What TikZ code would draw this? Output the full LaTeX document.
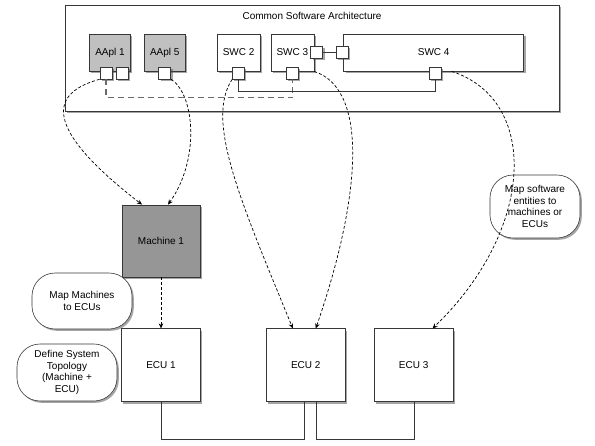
\documentclass[tikz,border=0pt]{standalone}
\usepackage{fontspec}
\setmainfont{Liberation Sans}
\usetikzlibrary{arrows.meta,positioning,shadows}
\definecolor{boxLine}{RGB}{55,55,55}
\definecolor{applFill}{RGB}{192,192,192}
\definecolor{machFill}{RGB}{150,150,150}
\definecolor{busGray}{RGB}{105,105,105}

\begin{document}
\begin{tikzpicture}[
  x=1pt, y=-1pt,
  font=\fontsize{10}{11.5}\selectfont,
  boxshadow/.style={drop shadow={shadow xshift=1.8pt, shadow yshift=-1.8pt, opacity=0.5, fill=black!70}},
  blk/.style={draw=boxLine, line width=0.8pt, fill=white, align=center, inner sep=0pt, boxshadow},
  appl/.style={blk, fill=applFill, minimum width=41pt, minimum height=37pt},
  swc/.style={blk, minimum width=43pt, minimum height=37pt},
  port/.style={blk, minimum size=12pt},
  hw/.style={blk, minimum width=79pt, minimum height=73pt},
  note/.style={draw=boxLine, line width=0.6pt, rounded corners=23pt, fill=white, align=center,
               inner sep=2pt, boxshadow},
  map/.style={densely dashed, line width=0.7pt, -{Stealth[length=5pt, width=4.5pt]}},
  bus/.style={dash pattern=on 6pt off 4pt, line width=1.1pt, busGray},
  wire/.style={line width=0.7pt, boxLine}
]
\useasboundingbox (0,0) rectangle (595,445);

% Common architecture
\node[blk, minimum width=494pt, minimum height=106pt] (arch) at (312,58) {};
\node (archtitle) at ([yshift=-11pt]arch.north) {Common Software Architecture};

\node[appl] (aapl1) at (110,52.5) {AApl 1};
\node[appl, right=13pt of aapl1] (aapl5) {AApl 5};
\node[swc, right=31pt of aapl5] (swc2) {SWC 2};
\node[swc, right=10pt of swc2] (swc3) {SWC 3};
\node[swc, right=29pt of swc3, minimum width=180pt] (swc4) {SWC 4};

% Ports
\node[port] (p1a) at ([xshift=-4pt, yshift=-1.5pt]aapl1.south) {};
\node[port] (p1b) at ([xshift=12pt, yshift=-1.5pt]aapl1.south) {};
\node[port] (p5) at ([yshift=-1.5pt]aapl5.south) {};
\node[port] (p2) at ([yshift=-1.5pt]swc2.south) {};
\node[port] (p3b) at ([yshift=-1.5pt]swc3.south) {};
\node[port] (p3r) at ([xshift=2.5pt]swc3.east) {};
\node[port] (p4l) at ([xshift=-1pt]swc4.west) {};
\node[port] (p4b) at ([xshift=1.5pt, yshift=-1.5pt]swc4.south) {};

% Hardware
\node[hw, fill=machFill, minimum width=78pt, minimum height=72pt] (machine) at (161,241) {Machine 1};
\node[hw, below=51pt of machine] (ecu1) {ECU 1};
\node[hw, right=65pt of ecu1] (ecu2) {ECU 2};
\node[hw, right=28pt of ecu2] (ecu3) {ECU 3};

% Notes
\node[note, minimum width=100pt, minimum height=56pt] (mapmach) at (82,301) {Map Machines\\to ECUs};
\node[note, minimum width=100pt, minimum height=57pt] (topo) at (67,372.5) {Define System\\Topology\\(Machine +\\ECU)};
\node[note, minimum width=90pt, minimum height=63pt] (mapsw) at (535,206.5) {Map software\\entities to\\machines or\\ECUs};

% Wiring inside the architecture
\draw[bus] (p1a.south) -- ++(0,18.5) -| (p3b.south);
\draw[wire] (p2.south) -- ++(0,12.5) -| (p4b.south);
\draw[wire] (p3r) -- (p4l);

% Mappings
\draw[map] (p1a.south west) .. controls (42,95) and (52,135) .. ([xshift=-19pt]machine.north);
\draw[map] (p5.south east) .. controls (195,95) and (200,160) .. ([xshift=7pt]machine.north);
\draw[map] (p2.south west) .. controls (205,120) and (240,200) .. ([xshift=-13pt]ecu2.north);
\draw[map] (swc3.south east) .. controls (370,90) and (360,200) .. ([xshift=10pt]ecu2.north);
\draw[map] ([xshift=18pt]swc4.south) .. controls (540,100) and (535,230) .. ([xshift=19pt]ecu3.north);
\draw[map] (machine.south) -- (ecu1.north);

% Topology
\draw[wire] (ecu1.south) -- ++(0,37.5) -| ([xshift=-1pt]ecu2.south);
\draw[wire] ([xshift=11pt]ecu2.south) -- ++(0,37) -| ([xshift=1pt]ecu3.south);

\end{tikzpicture}
\end{document}
